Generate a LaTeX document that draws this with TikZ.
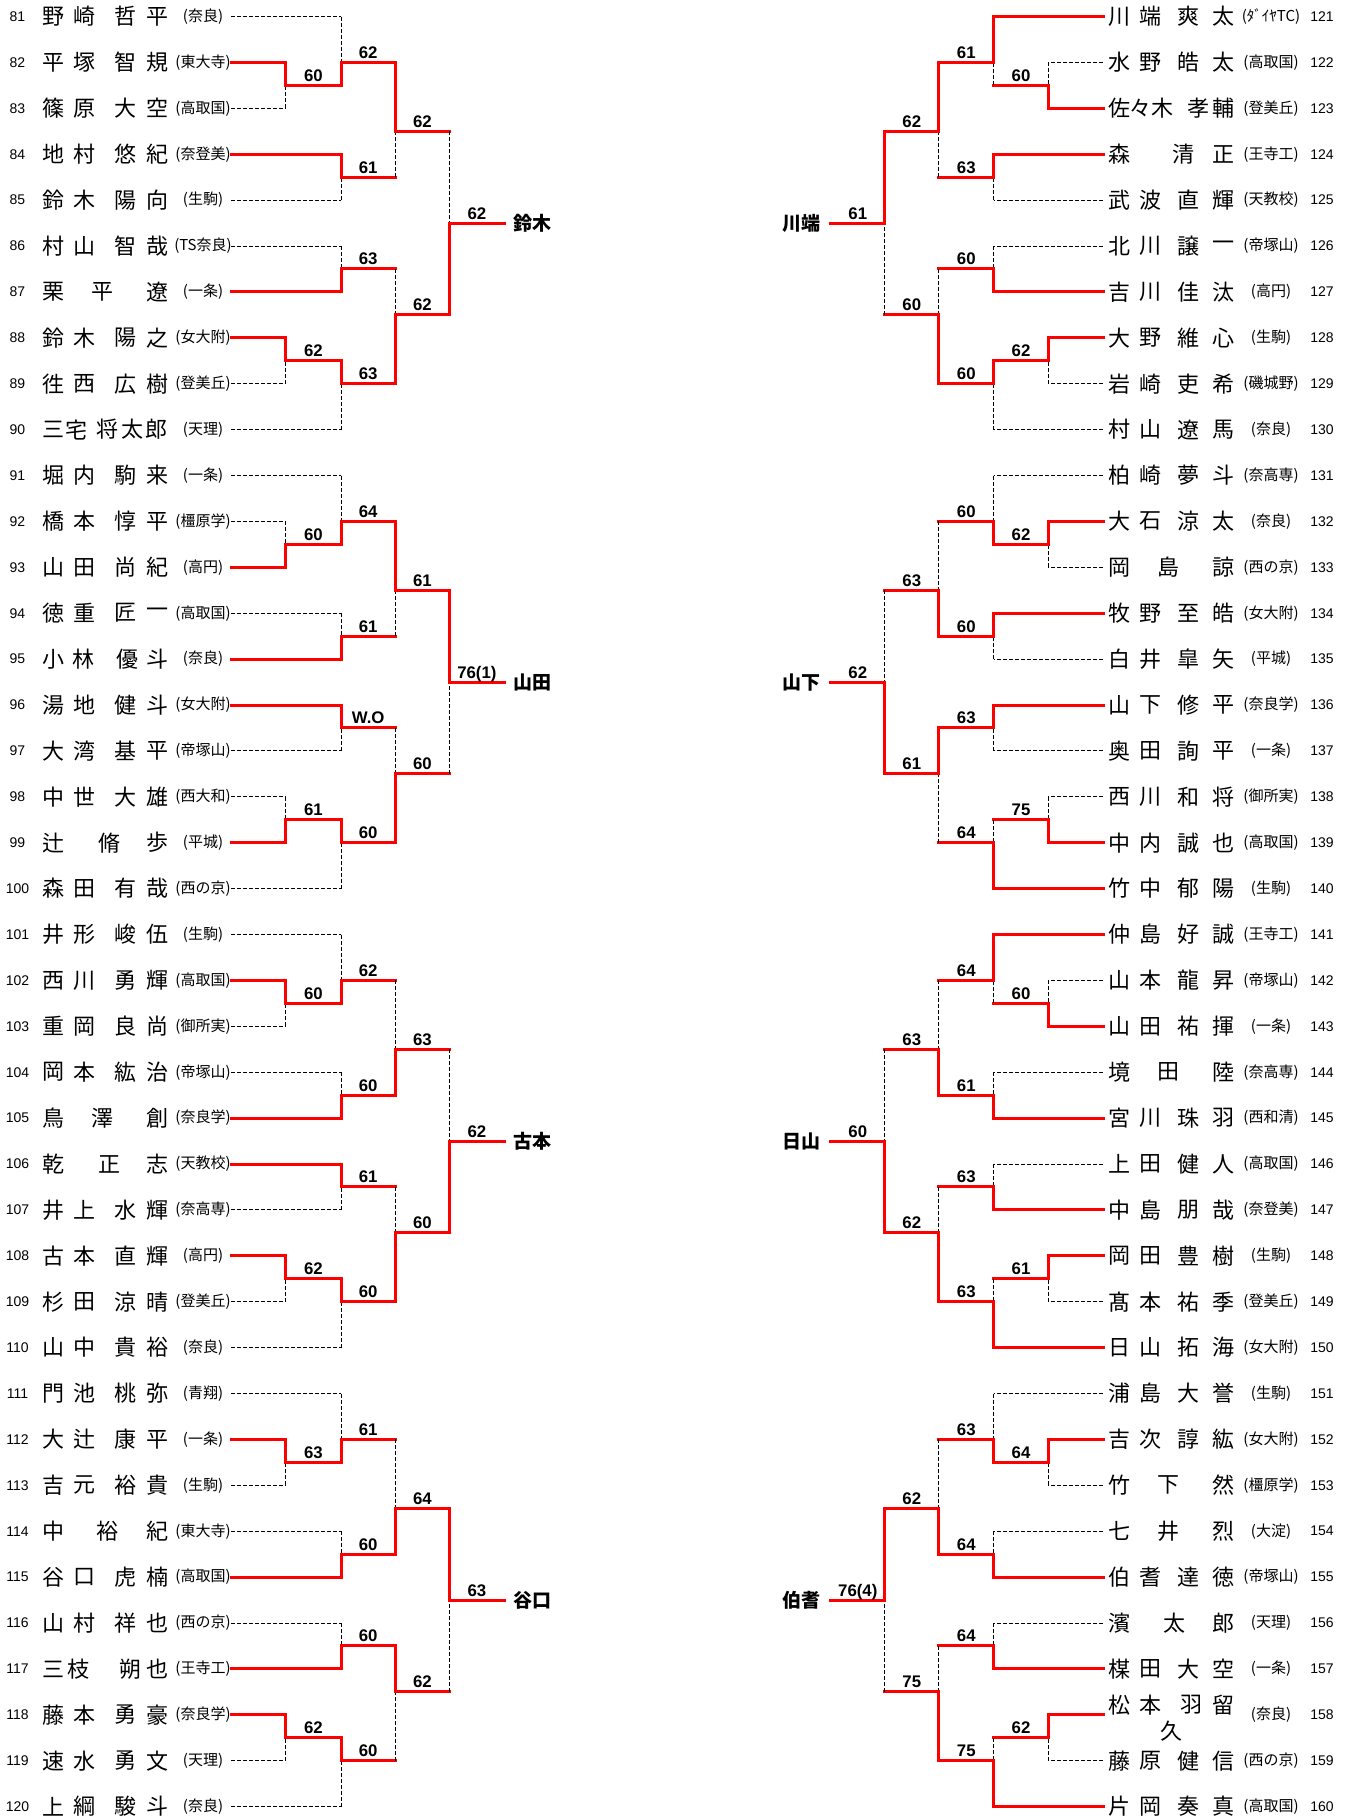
\documentclass[tikz,border=0pt]{standalone}
\usepackage{fontspec}
\newfontfamily\jp{Noto Sans CJK JP}
\newfontfamily\lat{Liberation Sans}
\tikzset{
  win/.style={draw=red, line width=1.5pt, line cap=rect, line join=miter},
  lose/.style={draw=black, line width=0.5pt, dash pattern=on 2pt off 1pt},
  nm/.style={font=\jp\fontsize{11}{11}\selectfont, inner sep=0pt},
  aff/.style={font=\jp\fontsize{7.5}{7.5}\selectfont, inner sep=0pt},
  num/.style={font=\lat\fontsize{7}{7}\selectfont, inner sep=0pt},
  score/.style={font=\lat\bfseries\fontsize{8.4}{8.4}\selectfont, anchor=base, inner sep=0pt},
  wname/.style={font=\jp\bfseries\fontsize{9.5}{9.5}\selectfont, inner sep=0pt}
}
\newcommand\bY[1]{16.5+45.9*(\rr+#1)}
\def\bSetW#1#2#3#4#5#6#7#8#9{\def\wA{#1}\def\wB{#2}\def\wC{#3}\def\wD{#4}\def\wE{#5}\def\wF{#6}\def\wG{#7}\def\wH{#8}\def\wI{#9}}
\def\bSetS#1#2#3#4#5#6#7#8#9{\def\sA{#1}\def\sB{#2}\def\sC{#3}\def\sD{#4}\def\sE{#5}\def\sF{#6}\def\sG{#7}\def\sH{#8}\def\sI{#9}}
\newcommand\bMt[8]{%
 \coordinate (#1a) at (#2,{\bY{#3}});
 \coordinate (#1b) at (#2,{\bY{#4}});
 \coordinate (#1o) at (#2,{\bY{#5}});
 \coordinate (#1e) at (#6,{\bY{#5}});
 \ifnum#7=1\relax
   \draw[lose] (#1b) -- (#1o);
   \draw[win] (#1a) -- (#1o) -- (#1e);
 \else
   \draw[lose] (#1a) -- (#1o);
   \draw[win] (#1b) -- (#1o) -- (#1e);
 \fi
 \node[score] (#1s) at ({(#2+#6)/2},{\bY{#5}-4}) {#8};
}
\newcommand\bPl[4]{%
 \coordinate (\pfx r#1s) at (\XO,{\bY{#1}});
 \coordinate (\pfx r#1e) at (#2,{\bY{#1}});
 \ifnum#3=#4\relax\draw[win] (\pfx r#1s) -- (\pfx r#1e);\else\draw[lose] (\pfx r#1s) -- (\pfx r#1e);\fi
}
\newcommand\bBlk[2]{%
 \def\pfx{#1}\def\rr{#2}%
 \bPl{0}{\XB}{\wB}{1}\bPl{1}{\XA}{\wA}{1}\bPl{2}{\XA}{\wA}{2}%
 \bPl{3}{\XB}{\wC}{1}\bPl{4}{\XB}{\wC}{2}\bPl{5}{\XB}{\wE}{1}%
 \bPl{6}{\XB}{\wE}{2}\bPl{7}{\XA}{\wF}{1}\bPl{8}{\XA}{\wF}{2}\bPl{9}{\XB}{\wG}{2}%
 \bMt{#1m1}{\XA}{1}{2}{1.5}{\XB}{\wA}{\sA}
 \bMt{#1m2}{\XB}{0}{1.5}{1}{\XC}{\wB}{\sB}
 \bMt{#1m3}{\XB}{3}{4}{3.5}{\XC}{\wC}{\sC}
 \bMt{#1m4}{\XC}{1}{3.5}{2.5}{\XD}{\wD}{\sD}
 \bMt{#1m5}{\XB}{5}{6}{5.5}{\XC}{\wE}{\sE}
 \bMt{#1m6}{\XA}{7}{8}{7.5}{\XB}{\wF}{\sF}
 \bMt{#1m7}{\XB}{7.5}{9}{8}{\XC}{\wG}{\sG}
 \bMt{#1m8}{\XC}{5.5}{8}{6.5}{\XD}{\wH}{\sH}
 \bMt{#1m9}{\XD}{2.5}{6.5}{4.5}{\XE}{\wI}{\sI}
}
\newcommand\bLq[3]{%
 \node[num] (k#1) at (17.5,{16.5+45.9*(#1-81)}) {#1};
 \foreach \cx/\cy/\cc [count=\k] in {#2} {\node[nm] (c#1-\k) at (\cx,{16.5+45.9*(#1-81)+(\cy)}) {\cc};}
 \node[aff] (f#1) at (203,{16.5+45.9*(#1-81)}) {#3};
}
\newcommand\bLp[6]{\bLq{#1}{53/0/#2,84/0/#3,125/0/#4,157/0/#5}{#6}}
\newcommand\bRq[3]{%
 \node[num] (k#1) at (1322,{16.5+45.9*(#1-121)}) {#1};
 \foreach \cx/\cy/\cc [count=\k] in {#2} {\node[nm] (c#1-\k) at (\cx,{16.5+45.9*(#1-121)+(\cy)}) {\cc};}
 \node[aff] (f#1) at (1271,{16.5+45.9*(#1-121)}) {#3};
}
\newcommand\bRp[6]{\bRq{#1}{1119/0/#2,1150/0/#3,1188/0/#4,1223/0/#5}{#6}}
\begin{document}
\begin{tikzpicture}[x=0.5pt,y=-0.5pt]
\fill[white] (0,0) rectangle (1350,1817);
\useasboundingbox (0,0) rectangle (1350,1817);
% ---------------- left side players
\bLp{81}{野}{崎}{哲}{平}{(奈良)}
\bLp{82}{平}{塚}{智}{規}{(東大寺)}
\bLp{83}{篠}{原}{大}{空}{(高取国)}
\bLp{84}{地}{村}{悠}{紀}{(奈登美)}
\bLp{85}{鈴}{木}{陽}{向}{(生駒)}
\bLp{86}{村}{山}{智}{哉}{(TS奈良)}
\bLq{87}{53/0/栗,102/0/平,157/0/遼}{(一条)}
\bLp{88}{鈴}{木}{陽}{之}{(女大附)}
\bLp{89}{徃}{西}{広}{樹}{(登美丘)}
\bLq{90}{53/0/三,76/0/宅,108/0/将,132/0/太,156/0/郎}{(天理)}
\bLp{91}{堀}{内}{駒}{来}{(一条)}
\bLp{92}{橋}{本}{惇}{平}{(橿原学)}
\bLp{93}{山}{田}{尚}{紀}{(高円)}
\bLp{94}{徳}{重}{匠}{一}{(高取国)}
\bLq{95}{53/0/小,83/0/林,127/0/優,157/0/斗}{(奈良)}
\bLp{96}{湯}{地}{健}{斗}{(女大附)}
\bLp{97}{大}{湾}{基}{平}{(帝塚山)}
\bLp{98}{中}{世}{大}{雄}{(西大和)}
\bLq{99}{53/0/辻,109/0/脩,157/0/歩}{(平城)}
\bLp{100}{森}{田}{有}{哉}{(西の京)}
\bLp{101}{井}{形}{峻}{伍}{(生駒)}
\bLp{102}{西}{川}{勇}{輝}{(高取国)}
\bLp{103}{重}{岡}{良}{尚}{(御所実)}
\bLp{104}{岡}{本}{紘}{治}{(帝塚山)}
\bLq{105}{53/0/鳥,102/0/澤,157/0/創}{(奈良学)}
\bLq{106}{53/0/乾,109/0/正,157/0/志}{(天教校)}
\bLp{107}{井}{上}{水}{輝}{(奈高専)}
\bLp{108}{古}{本}{直}{輝}{(高円)}
\bLp{109}{杉}{田}{涼}{晴}{(登美丘)}
\bLp{110}{山}{中}{貴}{裕}{(奈良)}
\bLp{111}{門}{池}{桃}{弥}{(青翔)}
\bLp{112}{大}{辻}{康}{平}{(一条)}
\bLp{113}{吉}{元}{裕}{貴}{(生駒)}
\bLq{114}{53/0/中,108/0/裕,157/0/紀}{(東大寺)}
\bLp{115}{谷}{口}{虎}{楠}{(高取国)}
\bLp{116}{山}{村}{祥}{也}{(西の京)}
\bLq{117}{53/0/三,79/0/枝,130/0/朔,157/0/也}{(王寺工)}
\bLp{118}{藤}{本}{勇}{豪}{(奈良学)}
\bLp{119}{速}{水}{勇}{文}{(天理)}
\bLp{120}{上}{綱}{駿}{斗}{(奈良)}
% ---------------- right side players
\bRp{121}{川}{端}{爽}{太}{(ﾀﾞｲﾔTC)}
\bRp{122}{水}{野}{皓}{太}{(高取国)}
\bRq{123}{1119/0/佐,1140/0/々,1162/0/木,1198/0/孝,1223/0/輔}{(登美丘)}
\bRq{124}{1119/0/森,1183/0/清,1223/0/正}{(王寺工)}
\bRp{125}{武}{波}{直}{輝}{(天教校)}
\bRp{126}{北}{川}{譲}{一}{(帝塚山)}
\bRp{127}{吉}{川}{佳}{汰}{(高円)}
\bRp{128}{大}{野}{維}{心}{(生駒)}
\bRp{129}{岩}{崎}{吏}{希}{(磯城野)}
\bRp{130}{村}{山}{遼}{馬}{(奈良)}
\bRp{131}{柏}{崎}{夢}{斗}{(奈高専)}
\bRp{132}{大}{石}{涼}{太}{(奈良)}
\bRq{133}{1119/0/岡,1168/0/島,1223/0/諒}{(西の京)}
\bRp{134}{牧}{野}{至}{皓}{(女大附)}
\bRp{135}{白}{井}{皐}{矢}{(平城)}
\bRp{136}{山}{下}{修}{平}{(奈良学)}
\bRp{137}{奥}{田}{詢}{平}{(一条)}
\bRp{138}{西}{川}{和}{将}{(御所実)}
\bRp{139}{中}{内}{誠}{也}{(高取国)}
\bRp{140}{竹}{中}{郁}{陽}{(生駒)}
\bRp{141}{仲}{島}{好}{誠}{(王寺工)}
\bRp{142}{山}{本}{龍}{昇}{(帝塚山)}
\bRp{143}{山}{田}{祐}{揮}{(一条)}
\bRq{144}{1119/0/境,1168/0/田,1223/0/陸}{(奈高専)}
\bRp{145}{宮}{川}{珠}{羽}{(西和清)}
\bRp{146}{上}{田}{健}{人}{(高取国)}
\bRp{147}{中}{島}{朋}{哉}{(奈登美)}
\bRp{148}{岡}{田}{豊}{樹}{(生駒)}
\bRp{149}{髙}{本}{祐}{季}{(登美丘)}
\bRp{150}{日}{山}{拓}{海}{(女大附)}
\bRp{151}{浦}{島}{大}{誉}{(生駒)}
\bRp{152}{吉}{次}{諄}{紘}{(女大附)}
\bRq{153}{1119/0/竹,1168/0/下,1223/0/然}{(橿原学)}
\bRq{154}{1119/0/七,1168/0/井,1223/0/烈}{(大淀)}
\bRp{155}{伯}{耆}{達}{徳}{(帝塚山)}
\bRq{156}{1119/0/濱,1174/0/太,1223/0/郎}{(天理)}
\bRp{157}{楳}{田}{大}{空}{(一条)}
\bRq{158}{1119/-10/松,1150/-10/本,1191/-10/羽,1223/-10/留,1171/16/久}{(奈良)}
\bRp{159}{藤}{原}{健}{信}{(西の京)}
\bRp{160}{片}{岡}{奏}{真}{(高取国)}
% ---------------- left brackets
\def\XO{231}\def\XA{285.7}\def\XB{341}\def\XC{395.4}\def\XD{449.5}\def\XE{504.3}
\bSetW{1}{2}{1}{1}{2}{1}{1}{2}{2}\bSetS{60}{62}{61}{62}{63}{62}{63}{62}{62}
\bBlk{LA}{0}
\bSetW{2}{2}{2}{1}{1}{2}{1}{2}{1}\bSetS{60}{64}{61}{61}{W.O}{61}{60}{60}{76(1)}
\bBlk{LB}{10}
\bSetW{1}{2}{2}{2}{1}{1}{1}{2}{2}\bSetS{60}{62}{60}{63}{61}{62}{60}{60}{62}
\bBlk{LC}{20}
\bSetW{1}{2}{2}{2}{2}{1}{1}{1}{1}\bSetS{63}{61}{60}{64}{60}{62}{60}{62}{63}
\bBlk{LD}{30}
\node[wname,anchor=west] (LAw) at (513,{16.5+45.9*4.5}) {鈴木};
\node[wname,anchor=west] (LBw) at (513,{16.5+45.9*14.5}) {山田};
\node[wname,anchor=west] (LCw) at (513,{16.5+45.9*24.5}) {古本};
\node[wname,anchor=west] (LDw) at (513,{16.5+45.9*34.5}) {谷口};
% ---------------- right brackets
\def\XO{1103}\def\XA{1048.3}\def\XB{993.7}\def\XC{938.9}\def\XD{884.7}\def\XE{830.9}
\bSetW{2}{1}{1}{1}{2}{1}{1}{2}{1}\bSetS{60}{61}{63}{62}{60}{62}{60}{60}{61}
\bBlk{RA}{0}
\bSetW{1}{2}{1}{2}{1}{2}{2}{1}{2}\bSetS{62}{60}{60}{63}{63}{75}{64}{61}{62}
\bBlk{RB}{10}
\bSetW{2}{1}{2}{2}{2}{1}{2}{2}{2}\bSetS{60}{64}{61}{63}{63}{61}{63}{62}{60}
\bBlk{RC}{20}
\bSetW{1}{2}{2}{2}{2}{1}{2}{2}{1}\bSetS{64}{63}{64}{62}{64}{62}{75}{75}{76(4)}
\bBlk{RD}{30}
\node[wname,anchor=east] (RAw) at (821,{16.5+45.9*4.5}) {川端};
\node[wname,anchor=east] (RBw) at (821,{16.5+45.9*14.5}) {山下};
\node[wname,anchor=east] (RCw) at (821,{16.5+45.9*24.5}) {日山};
\node[wname,anchor=east] (RDw) at (821,{16.5+45.9*34.5}) {伯耆};
\end{tikzpicture}
\end{document}
